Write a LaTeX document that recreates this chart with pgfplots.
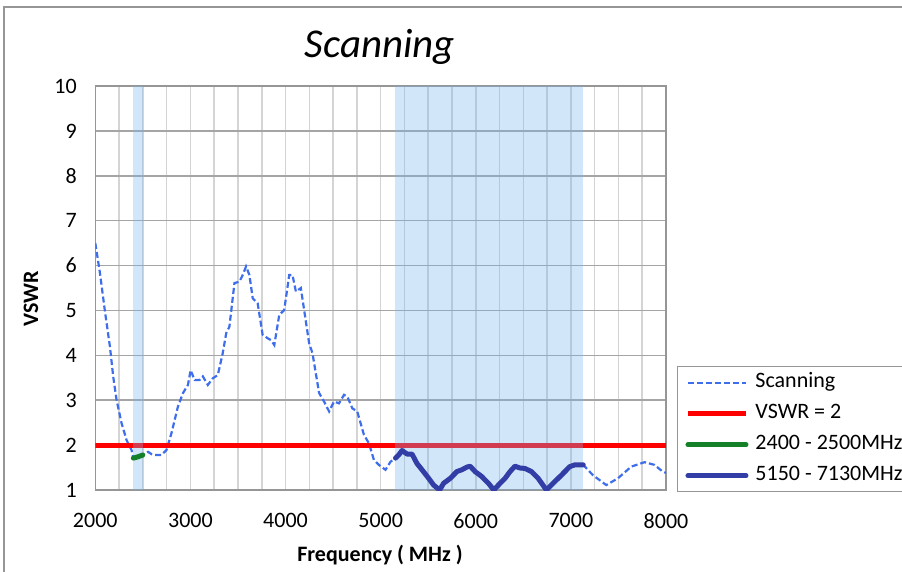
\documentclass[border=0pt]{standalone}
\usepackage{pgfplots}
\pgfplotsset{compat=1.18}
\usepackage{fontspec}
\setmainfont{Carlito}
\definecolor{scanblue}{RGB}{62,110,235}
\definecolor{bandblue}{RGB}{120,180,240}
\definecolor{wifigreen}{RGB}{20,128,40}
\definecolor{bandline}{RGB}{50,62,165}
\definecolor{gridh}{RGB}{165,165,165}
\definecolor{gridv}{RGB}{212,212,212}
\definecolor{frame}{RGB}{150,150,150}
\pgfplotsset{
  legend image code/.code={\draw[#1] (0pt,0pt) -- (58pt,0pt);}
}

% measured VSWR sweep (MHz, VSWR)
\pgfplotstableread{
f v
2000 6.50
2049 5.83
2102 4.97
2154 4.19
2188 3.53
2224 3.00
2276 2.49
2329 2.11
2381 1.89
2400 1.71
2450 1.74
2500 1.78
2555 1.85
2590 1.80
2625 1.78
2695 1.78
2748 1.89
2800 2.26
2869 2.86
2922 3.16
2974 3.34
3002 3.67
3044 3.45
3096 3.45
3131 3.53
3183 3.34
3236 3.49
3288 3.56
3340 4.05
3376 4.49
3410 4.64
3463 5.61
3515 5.64
3550 5.79
3585 5.98
3620 5.79
3655 5.27
3707 5.16
3759 4.46
3812 4.38
3847 4.34
3882 4.23
3934 4.90
3986 5.01
4039 5.79
4073 5.79
4109 5.42
4161 5.50
4248 4.27
4283 4.05
4353 3.16
4405 2.97
4458 2.75
4510 2.97
4562 2.93
4615 3.12
4650 3.08
4702 2.82
4754 2.75
4824 2.23
4877 2.04
4929 1.67
4981 1.56
5051 1.45
5104 1.63
5156 1.71
5190 1.78
5225 1.88
5278 1.80
5330 1.80
5382 1.59
5435 1.45
5505 1.26
5557 1.11
5620 1.00
5662 1.15
5732 1.26
5801 1.41
5853 1.45
5906 1.51
5941 1.53
5993 1.41
6063 1.30
6133 1.15
6190 1.00
6238 1.11
6308 1.26
6360 1.41
6412 1.53
6465 1.49
6517 1.48
6586 1.41
6656 1.26
6743 1.00
6813 1.15
6900 1.33
6988 1.52
7041 1.56
7130 1.56
7232 1.33
7372 1.11
7494 1.26
7634 1.52
7774 1.62
7879 1.56
7965 1.41
8000 1.38
}\scan

\pgfplotstableread{
f v
2400 1.71
2450 1.74
2500 1.78
}\wifi

\pgfplotstableread{
f v
5156 1.71
5190 1.78
5225 1.88
5278 1.80
5330 1.80
5382 1.59
5435 1.45
5505 1.26
5557 1.11
5620 1.00
5662 1.15
5732 1.26
5801 1.41
5853 1.45
5906 1.51
5941 1.53
5993 1.41
6063 1.30
6133 1.15
6190 1.00
6238 1.11
6308 1.26
6360 1.41
6412 1.53
6465 1.49
6517 1.48
6586 1.41
6656 1.26
6743 1.00
6813 1.15
6900 1.33
6988 1.52
7041 1.56
7130 1.56
}\uband

\begin{document}
\begin{tikzpicture}
\path[use as bounding box] (0pt,0pt) rectangle (902pt,571pt);
\clip (0pt,0pt) rectangle (902pt,571pt);
% chart area frame
\draw[frame, line width=1.5pt] (4pt,-20pt) -- (4pt,564pt) -- (920pt,564pt);

\begin{axis}[
  at={(95.3pt,81pt)}, anchor=south west,
  scale only axis, width=570.7pt, height=404pt,
  xmin=2000, xmax=8000, ymin=1, ymax=10,
  xtick={2000,3000,...,8000},
  minor xtick={2250,2500,2750,3250,3500,3750,4250,4500,4750,5250,5500,5750,6250,6500,6750,7250,7500,7750},
  ytick={1,2,...,10},
  major tick length=0pt, minor tick length=0pt,
  grid=both,
  major x grid style={gridv, line width=1.5pt},
  minor x grid style={gridv, line width=1.5pt},
  major y grid style={gridh, line width=1.5pt},
  axis line style={frame, line width=1.5pt},
  tick label style={font=\fontsize{22}{26}\selectfont},
  /pgf/number format/assume math mode=true,
  /pgf/number format/set thousands separator={},
  yticklabel style={xshift=-15pt},
  xticklabel style={yshift=-20pt},
  legend style={
    at={(axis description cs:1.0188,0.307)}, anchor=north west,
    draw=frame, line width=1.5pt,
    font=\fontsize{22}{26}\selectfont,
    inner xsep=8pt, inner ysep=6pt, row sep=11pt,
    nodes={inner sep=0pt, text height=15pt, text depth=5pt},
    /tikz/every odd column/.append style={column sep=7pt},
  },
  legend cell align=left,
]
\addplot[scanblue, line width=2.2pt, dash pattern=on 6pt off 3pt] table[x=f,y=v] {\scan};
\addlegendentry{Scanning}
\addplot[red, line width=5pt] coordinates {(2000,2) (8000,2)};
\addlegendentry{VSWR = 2}
% operating bands, shaded over the grid and the limit line
\addplot[forget plot, draw=none, fill=bandblue, fill opacity=0.333] coordinates {(2400,1) (2500,1) (2500,10) (2400,10)} -- cycle;
\addplot[forget plot, draw=none, fill=bandblue, fill opacity=0.333] coordinates {(5150,1) (7130,1) (7130,10) (5150,10)} -- cycle;
\addplot[wifigreen, line width=5pt, line cap=round] table[x=f,y=v] {\wifi};
\addlegendentry{2400 - 2500MHz}
\addplot[bandline, line width=5pt, line cap=round, line join=round] table[x=f,y=v] {\uband};
\addlegendentry{5150 - 7130MHz}
\end{axis}

\node[anchor=base, font=\fontsize{41}{48}\selectfont\itshape] at (380pt,513pt) {Scanning};
\node[anchor=base, font=\fontsize{22}{26}\selectfont\bfseries] at (380pt,10pt) {Frequency ( MHz )};
\node[rotate=90, anchor=center, font=\fontsize{22}{26}\selectfont\bfseries] at (31pt,272pt) {VSWR};
\end{tikzpicture}
\end{document}
